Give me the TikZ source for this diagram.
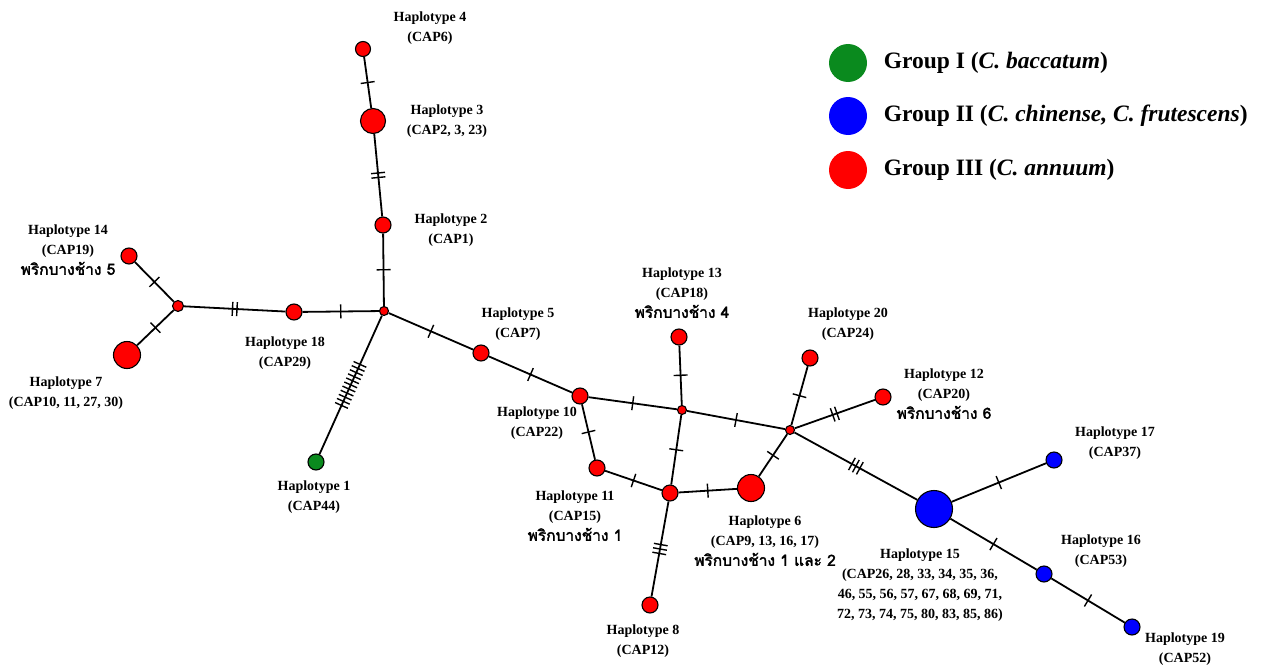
\documentclass[tikz,border=0pt]{standalone}
\usepackage{fontspec}
\setmainfont{Liberation Serif}
\newfontfamily\thaifont[Script=Thai, AutoFakeBold=2]{Loma}
\usetikzlibrary{decorations.markings}
\definecolor{hapred}{HTML}{FF0000}
\definecolor{hapgreen}{HTML}{0A8A1E}
\definecolor{hapblue}{HTML}{0000FF}

\newcommand{\thlbl}[1]{{\thaifont\bfseries\fontsize{15.5}{20}\selectfont #1}}

\begin{document}
\begin{tikzpicture}[
    x=1pt, y=-1pt,
    line width=1.8pt,
    hap/.style   = {circle, draw=black, line width=1.1pt, inner sep=0pt,
                    minimum size=#1},
    grpI/.style  = {hap=#1, fill=hapgreen},
    grpII/.style = {hap=#1, fill=hapblue},
    grpIII/.style= {hap=#1, fill=hapred},
    mv/.style    = {hap=9pt, fill=hapred},
    lbl/.style   = {font=\fontsize{14}{20}\selectfont\bfseries, align=center,
                    inner sep=0pt},
    legtxt/.style= {font=\fontsize{23.5}{26}\selectfont\bfseries, anchor=west,
                    inner sep=0pt},
    legdot/.style= {circle, inner sep=0pt, minimum size=38pt},
    mut/.style   = {postaction={decorate},
                    decoration={markings, mark=at position 0.5 with {
                      \foreach \k in {1,...,#1}
                        \draw[line width=1.4pt] ({(\k-(#1+1)/2)*4.5pt},-7pt) -- ++(0pt,14pt);}}},
  ]
  \useasboundingbox (0,0) rectangle (1263,669);

  % ===================================================================
  % Haplotypes and median vectors
  % ===================================================================
  \node[grpIII=15pt] (h4)  at (363,49)  {};
  \node[grpIII=25pt] (h3)  at (373,121) {};
  \node[grpIII=16pt] (h2)  at (383,225) {};
  \node[mv]          (mv1) at (384,311) {};
  \node[grpIII=16pt] (h18) at (294,312) {};
  \node[hap=11pt, fill=hapred] (mv2) at (178,306) {};
  \node[grpIII=16pt] (h14) at (129,256) {};
  \node[grpIII=27pt] (h7)  at (127,355) {};
  \node[grpI=16pt]   (h1)  at (316,462) {};
  \node[grpIII=16pt] (h5)  at (481,353) {};
  \node[grpIII=16pt] (h10) at (580,396) {};
  \node[mv]          (mv3) at (682,410) {};
  \node[grpIII=16pt] (h13) at (679,337) {};
  \node[grpIII=16pt] (h11) at (597,468) {};
  \node[grpIII=16pt] (hx)  at (670,493) {};
  \node[grpIII=27pt] (h6)  at (751,488) {};
  \node[mv]          (mv4) at (790,430) {};
  \node[grpIII=16pt] (h20) at (810,358) {};
  \node[grpIII=16pt] (h12) at (883,397) {};
  \node[grpIII=16pt] (h8)  at (650,605) {};
  \node[grpII=37pt]  (h15) at (934,509) {};
  \node[grpII=16pt]  (h17) at (1054,460) {};
  \node[grpII=16pt]  (h16) at (1044,574) {};
  \node[grpII=16pt]  (h19) at (1132,627) {};

  % ===================================================================
  % Links, one hatch per mutational step
  % ===================================================================
  \draw[mut=1]  (h4)  -- (h3);
  \draw[mut=2]  (h3)  -- (h2);
  \draw[mut=1]  (h2)  -- (mv1);
  \draw[mut=1]  (mv1) -- (h18);
  \draw[mut=2]  (h18) -- (mv2);
  \draw[mut=1]  (mv2) -- (h14);
  \draw[mut=1]  (mv2) -- (h7);
  \draw[mut=11] (mv1) -- (h1);
  \draw[mut=1]  (mv1) -- (h5);
  \draw[mut=1]  (h5)  -- (h10);
  \draw[mut=1]  (h10) -- (mv3);
  \draw[mut=1]  (mv3) -- (h13);
  \draw[mut=1]  (mv3) -- (mv4);
  \draw[mut=1]  (h10) -- (h11);
  \draw[mut=1]  (h11) -- (hx);
  \draw[mut=1]  (hx)  -- (mv3);
  \draw[mut=1]  (hx)  -- (h6);
  \draw[mut=3]  (hx)  -- (h8);
  \draw[mut=1]  (h6)  -- (mv4);
  \draw[mut=1]  (mv4) -- (h20);
  \draw[mut=2]  (mv4) -- (h12);
  \draw[mut=3]  (mv4) -- (h15);
  \draw[mut=1]  (h15) -- (h17);
  \draw[mut=1]  (h15) -- (h16);
  \draw[mut=1]  (h16) -- (h19);

  % ===================================================================
  % Labels
  % ===================================================================
  \node[lbl] (l4)  at (430,28)  {Haplotype 4\\(CAP6)};
  \node[lbl] (l3)  at (447,121) {Haplotype 3\\(CAP2, 3, 23)};
  \node[lbl] (l2)  at (451,230) {Haplotype 2\\(CAP1)};
  \node[lbl] (l14) at (68,250)  {Haplotype 14\\(CAP19)\\\thlbl{พริกบางช้าง 5}};
  \node[lbl] (l7)  at (66,393)  {Haplotype 7\\(CAP10, 11, 27, 30)};
  \node[lbl] (l18) at (285,353) {Haplotype 18\\(CAP29)};
  \node[lbl] (l1)  at (314,497) {Haplotype 1\\(CAP44)};
  \node[lbl] (l5)  at (518,324) {Haplotype 5\\(CAP7)};
  \node[lbl] (l10) at (537,423) {Haplotype 10\\(CAP22)};
  \node[lbl] (l13) at (682,293) {Haplotype 13\\(CAP18)\\\thlbl{พริกบางช้าง 4}};
  \node[lbl] (l20) at (848,324) {Haplotype 20\\(CAP24)};
  \node[lbl] (l12) at (944,394) {Haplotype 12\\(CAP20)\\\thlbl{พริกบางช้าง 6}};
  \node[lbl] (l17) at (1115,443) {Haplotype 17\\(CAP37)};
  \node[lbl] (l11) at (575,516) {Haplotype 11\\(CAP15)\\\thlbl{พริกบางช้าง 1}};
  \node[lbl] (l6)  at (765,541) {Haplotype 6\\(CAP9, 13, 16, 17)\\\thlbl{พริกบางช้าง 1 และ 2}};
  \node[lbl] (l15) at (920,585) {Haplotype 15\\(CAP26, 28, 33, 34, 35, 36,\\46, 55, 56, 57, 67, 68, 69, 71,\\72, 73, 74, 75, 80, 83, 85, 86)};
  \node[lbl] (l16) at (1101,551) {Haplotype 16\\(CAP53)};
  \node[lbl] (l19) at (1185,649) {Haplotype 19\\(CAP52)};
  \node[lbl] (l8)  at (643,641) {Haplotype 8\\(CAP12)};

  % ===================================================================
  % Legend
  % ===================================================================
  \node[legdot, fill=hapgreen] (kI)   at (848,63)  {};
  \node[legdot, fill=hapblue]  (kII)  at (848,116) {};
  \node[legdot, fill=hapred]   (kIII) at (848,170) {};
  \node[legtxt] at ([xshift=15pt]kI.east)   {Group I (\textit{C. baccatum})};
  \node[legtxt] at ([xshift=15pt]kII.east)  {Group II (\textit{C. chinense, C. frutescens})};
  \node[legtxt] at ([xshift=15pt]kIII.east) {Group III (\textit{C. annuum})};

\end{tikzpicture}
\end{document}
